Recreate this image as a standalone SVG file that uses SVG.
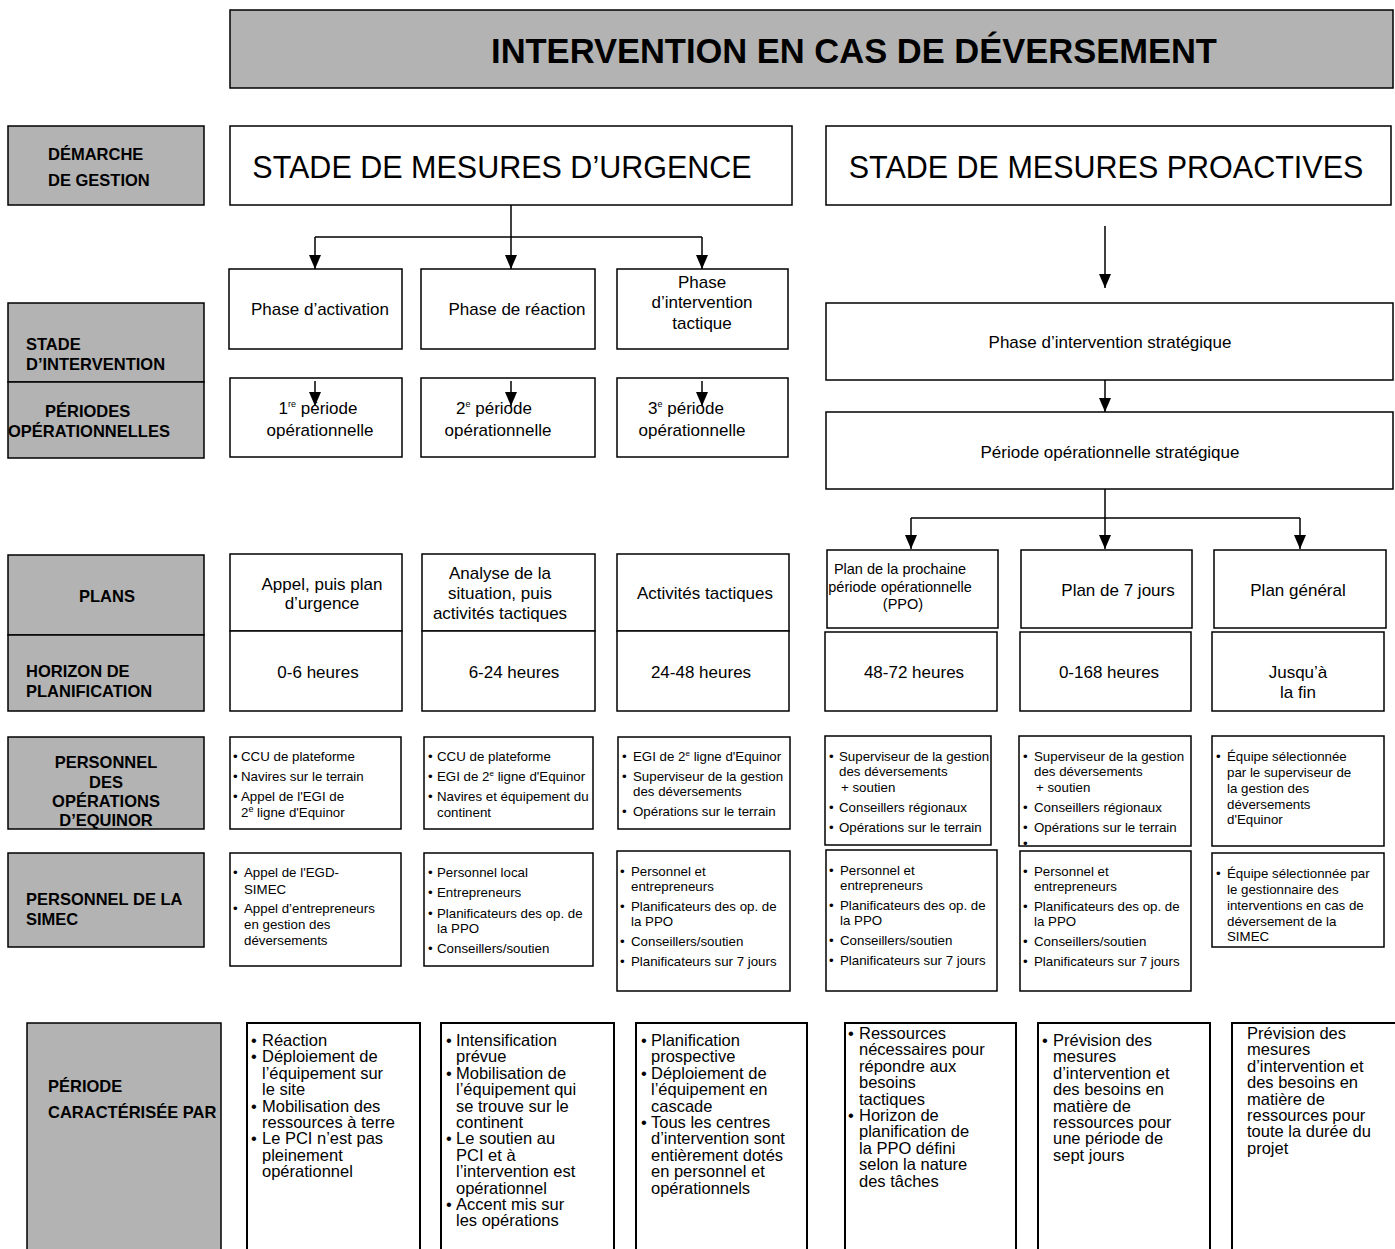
<svg xmlns="http://www.w3.org/2000/svg" width="1395" height="1249" viewBox="0 0 1395 1249">
  <style>
    text { font-family: "Liberation Sans", Arial, sans-serif; fill: #000; }
    .g { fill: #b3b3b3; stroke: #000; stroke-width: 1.5; }
    .w { fill: #fff; stroke: #000; stroke-width: 1.5; }
    .wb { fill: #fff; stroke: #000; stroke-width: 2; }
    .lbl { font-size: 16.5px; font-weight: bold; }
    .title { font-size: 34.5px; font-weight: bold; }
    .stage { font-size: 30.5px; }
    .m { font-size: 17px; }
    .p { font-size: 14.5px; }
    .s { font-size: 13.3px; }
    .b { font-size: 16.5px; }
    .c { text-anchor: middle; }
    .sup { font-size: 9px; }
    .conn line, .conn path { stroke: #000; stroke-width: 1.5; fill: none; }
  </style>
  <defs>
    <marker id="arrow" markerUnits="userSpaceOnUse" markerWidth="14" markerHeight="12" refX="14" refY="6" orient="auto">
      <path d="M0,0 L14,6 L0,12 z" fill="#000"/>
    </marker>
  </defs>

  <rect width="1395" height="1249" fill="#fff"/>

  <!-- Title -->
  <g id="title">
    <rect class="g" x="230" y="10" width="1163" height="78"/>
    <text class="title c" x="854" y="63">INTERVENTION EN CAS DE DÉVERSEMENT</text>
  </g>

  <!-- Row labels (left column) -->
  <g id="lbl-demarche">
    <rect class="g" x="8" y="126" width="196" height="79"/>
    <text class="lbl" x="48" y="160">DÉMARCHE</text>
    <text class="lbl" x="48" y="186">DE GESTION</text>
  </g>
  <g id="lbl-stade">
    <rect class="g" x="8" y="303" width="196" height="79"/>
    <text class="lbl" x="26" y="350">STADE</text>
    <text class="lbl" x="26" y="370">D’INTERVENTION</text>
  </g>
  <g id="lbl-periodes">
    <rect class="g" x="8" y="382" width="196" height="76"/>
    <text class="lbl" x="45" y="417">PÉRIODES</text>
    <text class="lbl" x="8" y="437">OPÉRATIONNELLES</text>
  </g>
  <g id="lbl-plans">
    <rect class="g" x="8" y="555" width="196" height="80"/>
    <text class="lbl c" x="107" y="602">PLANS</text>
  </g>
  <g id="lbl-horizon">
    <rect class="g" x="8" y="635" width="196" height="76"/>
    <text class="lbl" x="26" y="677">HORIZON DE</text>
    <text class="lbl" x="26" y="697">PLANIFICATION</text>
  </g>
  <g id="lbl-equinor">
    <rect class="g" x="8" y="737" width="196" height="92"/>
    <text class="lbl c" x="106" y="768">PERSONNEL</text>
    <text class="lbl c" x="106" y="788">DES</text>
    <text class="lbl c" x="106" y="807">OPÉRATIONS</text>
    <text class="lbl c" x="106" y="826">D’EQUINOR</text>
  </g>
  <g id="lbl-simec">
    <rect class="g" x="8" y="853" width="196" height="94"/>
    <text class="lbl" x="26" y="905">PERSONNEL DE LA</text>
    <text class="lbl" x="26" y="925">SIMEC</text>
  </g>
  <g id="lbl-caracterisee">
    <rect class="g" x="27" y="1023" width="194" height="240"/>
    <text class="lbl" x="48" y="1092">PÉRIODE</text>
    <text class="lbl" x="48" y="1118">CARACTÉRISÉE PAR</text>
  </g>

  <!-- Management stages -->
  <g id="stage-urgence">
    <rect class="w" x="230" y="126" width="562" height="79"/>
    <text class="stage c" x="502" y="178">STADE DE MESURES D’URGENCE</text>
  </g>
  <g id="stage-proactive">
    <rect class="w" x="826" y="126" width="565" height="79"/>
    <text class="stage c" x="1106" y="178">STADE DE MESURES PROACTIVES</text>
  </g>

  <!-- Response phases -->
  <g id="phase-activation">
    <rect class="w" x="229" y="269" width="173" height="80"/>
    <text class="m c" x="320" y="315">Phase d’activation</text>
  </g>
  <g id="phase-reaction">
    <rect class="w" x="421" y="269" width="174" height="80"/>
    <text class="m c" x="517" y="315">Phase de réaction</text>
  </g>
  <g id="phase-tactique">
    <rect class="w" x="617" y="269" width="171" height="80"/>
    <text class="m c" x="702" y="288">Phase</text>
    <text class="m c" x="702" y="308">d’intervention</text>
    <text class="m c" x="702" y="329">tactique</text>
  </g>
  <g id="phase-strategique">
    <rect class="w" x="826" y="303" width="567" height="77"/>
    <text class="m c" x="1110" y="348">Phase d’intervention stratégique</text>
  </g>

  <!-- Operational periods -->
  <g id="periode-1">
    <rect class="w" x="230" y="378" width="172" height="79"/>
    <text class="m c" x="318" y="414">1<tspan class="sup" dy="-7">re</tspan><tspan dy="7"> période</tspan></text>
    <text class="m c" x="320" y="436">opérationnelle</text>
  </g>
  <g id="periode-2">
    <rect class="w" x="421" y="378" width="174" height="79"/>
    <text class="m c" x="494" y="414">2<tspan class="sup" dy="-7">e</tspan><tspan dy="7"> période</tspan></text>
    <text class="m c" x="498" y="436">opérationnelle</text>
  </g>
  <g id="periode-3">
    <rect class="w" x="617" y="378" width="171" height="79"/>
    <text class="m c" x="686" y="414">3<tspan class="sup" dy="-7">e</tspan><tspan dy="7"> période</tspan></text>
    <text class="m c" x="692" y="436">opérationnelle</text>
  </g>
  <g id="periode-strategique">
    <rect class="w" x="826" y="412" width="567" height="77"/>
    <text class="m c" x="1110" y="458">Période opérationnelle stratégique</text>
  </g>

  <!-- Plans -->
  <g id="plan-urgence">
    <rect class="w" x="230" y="554" width="172" height="77"/>
    <text class="m c" x="322" y="590">Appel, puis plan</text>
    <text class="m c" x="322" y="609">d’urgence</text>
  </g>
  <g id="plan-analyse">
    <rect class="w" x="422" y="554" width="173" height="77"/>
    <text class="m c" x="500" y="579">Analyse de la</text>
    <text class="m c" x="500" y="599">situation, puis</text>
    <text class="m c" x="500" y="619">activités tactiques</text>
  </g>
  <g id="plan-tactique">
    <rect class="w" x="617" y="554" width="172" height="77"/>
    <text class="m c" x="705" y="599">Activités tactiques</text>
  </g>
  <g id="plan-ppo">
    <rect class="w" x="827" y="550" width="171" height="78"/>
    <text class="p c" x="900" y="574">Plan de la prochaine</text>
    <text class="p c" x="900" y="592">période opérationnelle</text>
    <text class="p c" x="903" y="609">(PPO)</text>
  </g>
  <g id="plan-7jours">
    <rect class="w" x="1021" y="550" width="171" height="78"/>
    <text class="m c" x="1118" y="596">Plan de 7 jours</text>
  </g>
  <g id="plan-general">
    <rect class="w" x="1214" y="550" width="172" height="78"/>
    <text class="m c" x="1298" y="596">Plan général</text>
  </g>

  <!-- Planning horizons -->
  <g id="horizon-1">
    <rect class="w" x="230" y="631" width="172" height="80"/>
    <text class="m c" x="318" y="678">0-6 heures</text>
  </g>
  <g id="horizon-2">
    <rect class="w" x="422" y="631" width="173" height="80"/>
    <text class="m c" x="514" y="678">6-24 heures</text>
  </g>
  <g id="horizon-3">
    <rect class="w" x="617" y="631" width="172" height="80"/>
    <text class="m c" x="701" y="678">24-48 heures</text>
  </g>
  <g id="horizon-4">
    <rect class="w" x="825" y="632" width="172" height="79"/>
    <text class="m c" x="914" y="678">48-72 heures</text>
  </g>
  <g id="horizon-5">
    <rect class="w" x="1020" y="632" width="171" height="79"/>
    <text class="m c" x="1109" y="678">0-168 heures</text>
  </g>
  <g id="horizon-6">
    <rect class="w" x="1212" y="632" width="172" height="79"/>
    <text class="m c" x="1298" y="678">Jusqu’à</text>
    <text class="m c" x="1298" y="698">la fin</text>
  </g>

  <!-- Equinor operations personnel -->
  <g id="equinor-1" class="s">
    <rect class="w" x="230" y="737" width="171" height="92"/>
    <text class="s" x="233" y="761">•</text><text class="s" x="241" y="761">CCU de plateforme</text>
    <text class="s" x="233" y="781">•</text><text class="s" x="241" y="781">Navires sur le terrain</text>
    <text class="s" x="233" y="801">•</text><text class="s" x="241" y="801">Appel de l'EGI de</text>
    <text class="s" x="241" y="817">2<tspan class="sup" font-size="8" dy="-5">e</tspan><tspan dy="5"> ligne d'Equinor</tspan></text>
  </g>
  <g id="equinor-2">
    <rect class="w" x="424" y="737" width="169" height="92"/>
    <text class="s" x="428" y="761">•</text><text class="s" x="437" y="761">CCU de plateforme</text>
    <text class="s" x="428" y="781">•</text><text class="s" x="437" y="781">EGI de 2<tspan font-size="8" dy="-5">e</tspan><tspan dy="5"> ligne d'Equinor</tspan></text>
    <text class="s" x="428" y="801">•</text><text class="s" x="437" y="801">Navires et équipement du</text>
    <text class="s" x="437" y="817">continent</text>
  </g>
  <g id="equinor-3">
    <rect class="w" x="618" y="737" width="172" height="92"/>
    <text class="s" x="622" y="761">•</text><text class="s" x="633" y="761">EGI de 2<tspan font-size="8" dy="-5">e</tspan><tspan dy="5"> ligne d'Equinor</tspan></text>
    <text class="s" x="622" y="781">•</text><text class="s" x="633" y="781">Superviseur de la gestion</text>
    <text class="s" x="633" y="796">des déversements</text>
    <text class="s" x="622" y="816">•</text><text class="s" x="633" y="816">Opérations sur le terrain</text>
  </g>
  <g id="equinor-4">
    <rect class="w" x="825" y="736" width="166" height="109"/>
    <text class="s" x="829" y="761">•</text><text class="s" x="839" y="761">Superviseur de la gestion</text>
    <text class="s" x="839" y="776">des déversements</text>
    <text class="s" x="841" y="792">+ soutien</text>
    <text class="s" x="829" y="812">•</text><text class="s" x="839" y="812">Conseillers régionaux</text>
    <text class="s" x="829" y="832">•</text><text class="s" x="839" y="832">Opérations sur le terrain</text>
  </g>
  <g id="equinor-5">
    <rect class="w" x="1019" y="736" width="172" height="110"/>
    <text class="s" x="1023" y="761">•</text><text class="s" x="1034" y="761">Superviseur de la gestion</text>
    <text class="s" x="1034" y="776">des déversements</text>
    <text class="s" x="1036" y="792">+ soutien</text>
    <text class="s" x="1023" y="812">•</text><text class="s" x="1034" y="812">Conseillers régionaux</text>
    <text class="s" x="1023" y="832">•</text><text class="s" x="1034" y="832">Opérations sur le terrain</text>
    <text class="s" x="1023" y="848">•</text>
  </g>
  <g id="equinor-6">
    <rect class="w" x="1212" y="736" width="172" height="110"/>
    <text class="s" x="1216" y="761">•</text><text class="s" x="1227" y="761">Équipe sélectionnée</text>
    <text class="s" x="1227" y="777">par le superviseur de</text>
    <text class="s" x="1227" y="793">la gestion des</text>
    <text class="s" x="1227" y="809">déversements</text>
    <text class="s" x="1227" y="824">d'Equinor</text>
  </g>

  <!-- SIMEC personnel -->
  <g id="simec-1">
    <rect class="w" x="230" y="853" width="171" height="113"/>
    <text class="s" x="233" y="877">•</text><text class="s" x="244" y="877">Appel de l'EGD-</text>
    <text class="s" x="244" y="894">SIMEC</text>
    <text class="s" x="233" y="913">•</text><text class="s" x="244" y="913">Appel d’entrepreneurs</text>
    <text class="s" x="244" y="929">en gestion des</text>
    <text class="s" x="244" y="945">déversements</text>
  </g>
  <g id="simec-2">
    <rect class="w" x="424" y="853" width="169" height="113"/>
    <text class="s" x="428" y="877">•</text><text class="s" x="437" y="877">Personnel local</text>
    <text class="s" x="428" y="897">•</text><text class="s" x="437" y="897">Entrepreneurs</text>
    <text class="s" x="428" y="918">•</text><text class="s" x="437" y="918">Planificateurs des op. de</text>
    <text class="s" x="437" y="933">la PPO</text>
    <text class="s" x="428" y="953">•</text><text class="s" x="437" y="953">Conseillers/soutien</text>
  </g>
  <g id="simec-3">
    <rect class="w" x="617" y="851" width="173" height="140"/>
    <text class="s" x="620" y="876">•</text><text class="s" x="631" y="876">Personnel et</text>
    <text class="s" x="631" y="891">entrepreneurs</text>
    <text class="s" x="620" y="911">•</text><text class="s" x="631" y="911">Planificateurs des op. de</text>
    <text class="s" x="631" y="926">la PPO</text>
    <text class="s" x="620" y="946">•</text><text class="s" x="631" y="946">Conseillers/soutien</text>
    <text class="s" x="620" y="966">•</text><text class="s" x="631" y="966">Planificateurs sur 7 jours</text>
  </g>
  <g id="simec-4">
    <rect class="w" x="826" y="850" width="171" height="141"/>
    <text class="s" x="829" y="875">•</text><text class="s" x="840" y="875">Personnel et</text>
    <text class="s" x="840" y="890">entrepreneurs</text>
    <text class="s" x="829" y="910">•</text><text class="s" x="840" y="910">Planificateurs des op. de</text>
    <text class="s" x="840" y="925">la PPO</text>
    <text class="s" x="829" y="945">•</text><text class="s" x="840" y="945">Conseillers/soutien</text>
    <text class="s" x="829" y="965">•</text><text class="s" x="840" y="965">Planificateurs sur 7 jours</text>
  </g>
  <g id="simec-5">
    <rect class="w" x="1020" y="851" width="171" height="140"/>
    <text class="s" x="1023" y="876">•</text><text class="s" x="1034" y="876">Personnel et</text>
    <text class="s" x="1034" y="891">entrepreneurs</text>
    <text class="s" x="1023" y="911">•</text><text class="s" x="1034" y="911">Planificateurs des op. de</text>
    <text class="s" x="1034" y="926">la PPO</text>
    <text class="s" x="1023" y="946">•</text><text class="s" x="1034" y="946">Conseillers/soutien</text>
    <text class="s" x="1023" y="966">•</text><text class="s" x="1034" y="966">Planificateurs sur 7 jours</text>
  </g>
  <g id="simec-6">
    <rect class="w" x="1212" y="853" width="172" height="94"/>
    <text class="s" x="1216" y="878">•</text><text class="s" x="1227" y="878">Équipe sélectionnée par</text>
    <text class="s" x="1227" y="894">le gestionnaire des</text>
    <text class="s" x="1227" y="910">interventions en cas de</text>
    <text class="s" x="1227" y="926">déversement de la</text>
    <text class="s" x="1227" y="941">SIMEC</text>
  </g>

  <!-- Characteristics of each period -->
  <g id="carac-1">
    <rect class="wb" x="247" y="1023" width="173" height="240"/>
    <text class="b" x="251" y="1046">•</text><text class="b" x="262" y="1046">Réaction</text>
    <text class="b" x="251" y="1062.4">•</text><text class="b" x="262" y="1062.4">Déploiement de</text>
    <text class="b" x="262" y="1078.8">l’équipement sur</text>
    <text class="b" x="262" y="1095.2">le site</text>
    <text class="b" x="251" y="1111.6">•</text><text class="b" x="262" y="1111.6">Mobilisation des</text>
    <text class="b" x="262" y="1128">ressources à terre</text>
    <text class="b" x="251" y="1144.4">•</text><text class="b" x="262" y="1144.4">Le PCI n’est pas</text>
    <text class="b" x="262" y="1160.8">pleinement</text>
    <text class="b" x="262" y="1177.2">opérationnel</text>
  </g>
  <g id="carac-2">
    <rect class="wb" x="441" y="1023" width="173" height="240"/>
    <text class="b" x="446" y="1046">•</text><text class="b" x="456" y="1046">Intensification</text>
    <text class="b" x="456" y="1062.4">prévue</text>
    <text class="b" x="446" y="1078.8">•</text><text class="b" x="456" y="1078.8">Mobilisation de</text>
    <text class="b" x="456" y="1095.2">l’équipement qui</text>
    <text class="b" x="456" y="1111.6">se trouve sur le</text>
    <text class="b" x="456" y="1128">continent</text>
    <text class="b" x="446" y="1144.4">•</text><text class="b" x="456" y="1144.4">Le soutien au</text>
    <text class="b" x="456" y="1160.8">PCI et à</text>
    <text class="b" x="456" y="1177.2">l’intervention est</text>
    <text class="b" x="456" y="1193.6">opérationnel</text>
    <text class="b" x="446" y="1210">•</text><text class="b" x="456" y="1210">Accent mis sur</text>
    <text class="b" x="456" y="1226.4">les opérations</text>
  </g>
  <g id="carac-3">
    <rect class="wb" x="636" y="1023" width="171" height="240"/>
    <text class="b" x="641" y="1046">•</text><text class="b" x="651" y="1046">Planification</text>
    <text class="b" x="651" y="1062.4">prospective</text>
    <text class="b" x="641" y="1078.8">•</text><text class="b" x="651" y="1078.8">Déploiement de</text>
    <text class="b" x="651" y="1095.2">l’équipement en</text>
    <text class="b" x="651" y="1111.6">cascade</text>
    <text class="b" x="641" y="1128">•</text><text class="b" x="651" y="1128">Tous les centres</text>
    <text class="b" x="651" y="1144.4">d’intervention sont</text>
    <text class="b" x="651" y="1160.8">entièrement dotés</text>
    <text class="b" x="651" y="1177.2">en personnel et</text>
    <text class="b" x="651" y="1193.6">opérationnels</text>
  </g>
  <g id="carac-4">
    <rect class="wb" x="845" y="1023" width="171" height="240"/>
    <text class="b" x="848" y="1039">•</text><text class="b" x="859" y="1039">Ressources</text>
    <text class="b" x="859" y="1055.4">nécessaires pour</text>
    <text class="b" x="859" y="1071.8">répondre aux</text>
    <text class="b" x="859" y="1088.2">besoins</text>
    <text class="b" x="859" y="1104.6">tactiques</text>
    <text class="b" x="848" y="1121">•</text><text class="b" x="859" y="1121">Horizon de</text>
    <text class="b" x="859" y="1137.4">planification de</text>
    <text class="b" x="859" y="1153.8">la PPO défini</text>
    <text class="b" x="859" y="1170.2">selon la nature</text>
    <text class="b" x="859" y="1186.6">des tâches</text>
  </g>
  <g id="carac-5">
    <rect class="wb" x="1038" y="1023" width="172" height="240"/>
    <text class="b" x="1042" y="1046">•</text><text class="b" x="1053" y="1046">Prévision des</text>
    <text class="b" x="1053" y="1062.4">mesures</text>
    <text class="b" x="1053" y="1078.8">d’intervention et</text>
    <text class="b" x="1053" y="1095.2">des besoins en</text>
    <text class="b" x="1053" y="1111.6">matière de</text>
    <text class="b" x="1053" y="1128">ressources pour</text>
    <text class="b" x="1053" y="1144.4">une période de</text>
    <text class="b" x="1053" y="1160.8">sept jours</text>
  </g>
  <g id="carac-6">
    <rect class="wb" x="1232" y="1023" width="180" height="240"/>
    <text class="b" x="1247" y="1039">Prévision des</text>
    <text class="b" x="1247" y="1055.4">mesures</text>
    <text class="b" x="1247" y="1071.8">d’intervention et</text>
    <text class="b" x="1247" y="1088.2">des besoins en</text>
    <text class="b" x="1247" y="1104.6">matière de</text>
    <text class="b" x="1247" y="1121">ressources pour</text>
    <text class="b" x="1247" y="1137.4">toute la durée du</text>
    <text class="b" x="1247" y="1153.8">projet</text>
  </g>

  <!-- Connectors -->
  <g id="connectors" class="conn">
    <!-- emergency stage fan-out to the three phases -->
    <line x1="511" y1="205" x2="511" y2="237"/>
    <line x1="315" y1="237" x2="702" y2="237"/>
    <line x1="315" y1="237" x2="315" y2="269" marker-end="url(#arrow)"/>
    <line x1="511" y1="237" x2="511" y2="269" marker-end="url(#arrow)"/>
    <line x1="702" y1="237" x2="702" y2="269" marker-end="url(#arrow)"/>
    <!-- phase to period arrows drawn inside the period boxes -->
    <line x1="315" y1="381" x2="315" y2="406" marker-end="url(#arrow)"/>
    <line x1="511" y1="381" x2="511" y2="406" marker-end="url(#arrow)"/>
    <line x1="702" y1="381" x2="702" y2="406" marker-end="url(#arrow)"/>
    <!-- proactive stage chain -->
    <line x1="1105" y1="226" x2="1105" y2="288" marker-end="url(#arrow)"/>
    <line x1="1105" y1="380" x2="1105" y2="412" marker-end="url(#arrow)"/>
    <line x1="1105" y1="489" x2="1105" y2="518"/>
    <line x1="911" y1="518" x2="1300" y2="518"/>
    <line x1="911" y1="518" x2="911" y2="549" marker-end="url(#arrow)"/>
    <line x1="1105" y1="518" x2="1105" y2="549" marker-end="url(#arrow)"/>
    <line x1="1300" y1="518" x2="1300" y2="549" marker-end="url(#arrow)"/>
  </g>
</svg>
